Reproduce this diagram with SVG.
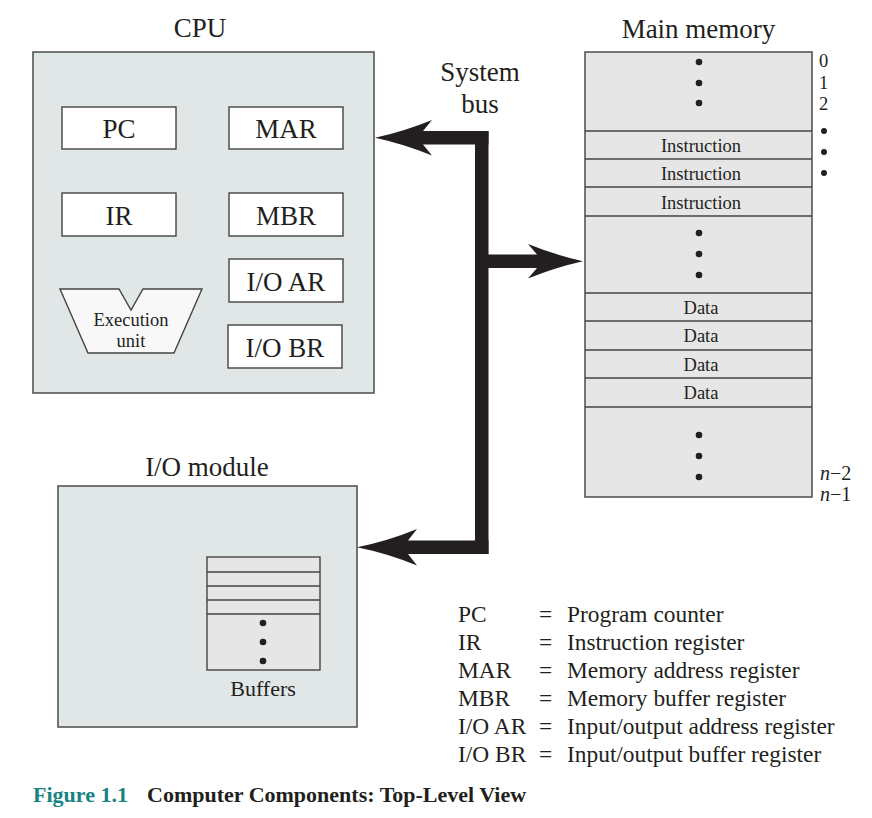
<svg xmlns="http://www.w3.org/2000/svg" width="872" height="818" viewBox="0 0 872 818">
<style>
text{font-family:"Liberation Serif","Times New Roman",serif;fill:#231f20}
.big{font-size:27px}
.mid{font-size:23.4px}
.sm{font-size:18.5px}
.c{text-anchor:middle}
.panel{fill:#e1e7e7;stroke:#555;stroke-width:1.6}
.mem{fill:#e6e6e6;stroke:#555;stroke-width:1.6}
.reg{fill:#fff;stroke:#444;stroke-width:1.4}
.div{stroke:#444;stroke-width:1.4;fill:none}
.dot{fill:#231f20}
.bus{fill:#231f20}
.cap{font-size:22px;font-weight:bold}
</style>
<rect width="872" height="818" fill="#fff"/>

<g id="cpu">
<text class="big c" x="200" y="37">CPU</text>
<rect class="panel" x="33" y="52" width="341" height="341"/>
</g>
<g id="pc"><rect class="reg" x="62" y="107" width="114" height="42"/><text class="big c" x="119" y="138">PC</text></g>
<g id="mar"><rect class="reg" x="229" y="107" width="114" height="42"/><text class="big c" x="286" y="138">MAR</text></g>
<g id="ir"><rect class="reg" x="62" y="193" width="114" height="43"/><text class="big c" x="119" y="225">IR</text></g>
<g id="mbr"><rect class="reg" x="229" y="193" width="114" height="43"/><text class="big c" x="286" y="225">MBR</text></g>
<g id="ioar"><rect class="reg" x="229" y="259" width="114" height="43"/><text class="big c" x="286" y="291">I/O AR</text></g>
<g id="iobr"><rect class="reg" x="228" y="325" width="114" height="43"/><text class="big c" x="285" y="357">I/O BR</text></g>
<g id="exec">
<polygon points="60,289 119,289 131,310 143,289 202,289 174,353 88,353" fill="#f8f8f8" stroke="#444" stroke-width="1.4"/>
<text class="sm c" x="131" y="326">Execution</text>
<text class="sm c" x="131" y="347">unit</text>
</g>

<g id="memory">
<text class="big c" x="698.5" y="37.5">Main memory</text>
<rect class="mem" x="585" y="52" width="227" height="445"/>
<path class="div" d="M585,131H812M585,159H812M585,187H812M585,216H812M585,293H812M585,321H812M585,350H812M585,378H812M585,407H812"/>
<circle class="dot" cx="699" cy="62" r="3.3"/><circle class="dot" cx="699" cy="83" r="3.3"/><circle class="dot" cx="699" cy="103" r="3.3"/>
<circle class="dot" cx="699" cy="233" r="3.3"/><circle class="dot" cx="699" cy="254" r="3.3"/><circle class="dot" cx="699" cy="275" r="3.3"/>
<circle class="dot" cx="699" cy="435" r="3.3"/><circle class="dot" cx="699" cy="456" r="3.3"/><circle class="dot" cx="699" cy="477" r="3.3"/>
<text class="sm c" x="701" y="151.5">Instruction</text>
<text class="sm c" x="701" y="180">Instruction</text>
<text class="sm c" x="701" y="208.5">Instruction</text>
<text class="sm c" x="701" y="313.5">Data</text>
<text class="sm c" x="701" y="342">Data</text>
<text class="sm c" x="701" y="370.5">Data</text>
<text class="sm c" x="701" y="398.5">Data</text>
<text class="sm" x="819" y="67">0</text>
<text class="sm" x="819" y="89">1</text>
<text class="sm" x="819" y="110">2</text>
<circle class="dot" cx="824" cy="131" r="3"/><circle class="dot" cx="824" cy="152" r="3"/><circle class="dot" cx="824" cy="173" r="3"/>
<text class="sm" x="820" y="480" style="font-size:20px"><tspan font-style="italic">n</tspan>−2</text>
<text class="sm" x="820" y="501" style="font-size:20px"><tspan font-style="italic">n</tspan>−1</text>
</g>

<g id="iomodule">
<text class="big c" x="207" y="476">I/O module</text>
<rect class="panel" x="58" y="486" width="299" height="241"/>
<rect class="mem" x="207" y="557" width="113" height="113" style="stroke:#444;stroke-width:1.4"/>
<path class="div" d="M207,572H320M207,586H320M207,600H320M207,614H320"/>
<circle class="dot" cx="263" cy="623" r="3.3"/><circle class="dot" cx="263" cy="642" r="3.3"/><circle class="dot" cx="263" cy="661" r="3.3"/>
<text class="c" x="263" y="696" style="font-size:22px">Buffers</text>
</g>

<g id="bus-label">
<text class="big c" x="480" y="81">System</text>
<text class="big c" x="480" y="113">bus</text>
</g>

<g id="connectors">
<rect class="bus" x="475" y="131" width="13.5" height="423"/>
<rect class="bus" x="420" y="131" width="68.5" height="13.5"/>
<rect class="bus" x="475" y="254.5" width="65" height="13.5"/>
<rect class="bus" x="405" y="540.5" width="83.5" height="13.5"/>
<path class="bus" d="M375,137.75Q404,131.5 432,120L423,131L423,144.5L432,155.5Q404,144 375,137.75Z"/>
<path class="bus" d="M583,261.25Q555,255 528,244L537,254.5L537,268L528,278.5Q555,267.5 583,261.25Z"/>
<path class="bus" d="M357,547.25Q388,541 417,529L408,540.5L408,554L417,565.5Q388,553.5 357,547.25Z"/>
</g>

<g id="legend">
<text class="mid" x="458" y="622">PC</text><text class="mid" x="539" y="622">=</text><text class="mid" x="567" y="622">Program counter</text>
<text class="mid" x="458" y="650">IR</text><text class="mid" x="539" y="650">=</text><text class="mid" x="567" y="650">Instruction register</text>
<text class="mid" x="458" y="678">MAR</text><text class="mid" x="539" y="678">=</text><text class="mid" x="567" y="678">Memory address register</text>
<text class="mid" x="458" y="706">MBR</text><text class="mid" x="539" y="706">=</text><text class="mid" x="567" y="706">Memory buffer register</text>
<text class="mid" x="458" y="734">I/O AR</text><text class="mid" x="539" y="734">=</text><text class="mid" x="567" y="734">Input/output address register</text>
<text class="mid" x="458" y="762">I/O BR</text><text class="mid" x="539" y="762">=</text><text class="mid" x="567" y="762">Input/output buffer register</text>
</g>

<g id="caption">
<text class="cap" x="33" y="802"><tspan style="fill:#178383">Figure 1.1</tspan><tspan x="147">Computer Components: Top-Level View</tspan></text>
</g>
</svg>
